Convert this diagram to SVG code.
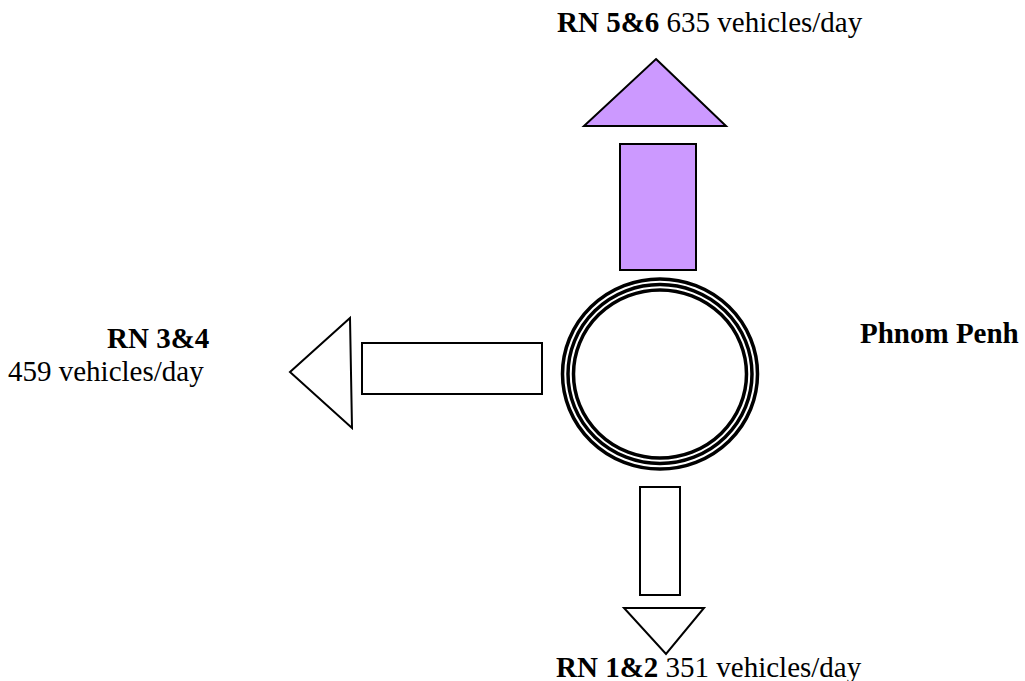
<svg xmlns="http://www.w3.org/2000/svg" width="1025" height="681" viewBox="0 0 1025 681">
<style>
.shape{stroke:#000;stroke-width:2;stroke-linejoin:miter}
.w{fill:#fff}
.p{fill:#cc99ff}
.ring{fill:none;stroke:#000;stroke-width:3.5}
text{font-family:"Liberation Serif","Times New Roman",serif;font-size:29px;fill:#000}
.b{font-weight:bold}
</style>
<rect width="1025" height="681" fill="#fff"/>
<g id="hub">
<ellipse cx="660" cy="374" rx="98" ry="95.5" fill="#fff" stroke="none"/>
<ellipse class="ring" cx="660" cy="374" rx="97.5" ry="95"/>
<ellipse class="ring" cx="660" cy="374" rx="92" ry="89.5"/>
<ellipse class="ring" cx="660" cy="374" rx="86.5" ry="84"/>
</g>
<g id="connectors">
<g id="north-arrow">
<rect class="shape p" x="620" y="144" width="76" height="126"/>
<polygon class="shape p" points="656,59 726,126 584,126"/>
</g>
<g id="west-arrow">
<rect class="shape w" x="362" y="343" width="180" height="51"/>
<polygon class="shape w" points="290,372 350,318 352,428"/>
</g>
<g id="south-arrow">
<rect class="shape w" x="640" y="487" width="40" height="108"/>
<polygon class="shape w" points="624,608 704,608 666,654"/>
</g>
</g>
<g id="label-north"><text x="557" y="32"><tspan class="b">RN 5&amp;6</tspan> 635 vehicles/day</text></g>
<g id="label-city"><text class="b" x="860" y="343">Phnom Penh</text></g>
<g id="label-west"><text class="b" x="107" y="348">RN 3&amp;4</text><text x="8" y="381">459 vehicles/day</text></g>
<g id="label-south"><text x="556" y="677"><tspan class="b">RN 1&amp;2</tspan> 351 vehicles/day</text></g>
</svg>
